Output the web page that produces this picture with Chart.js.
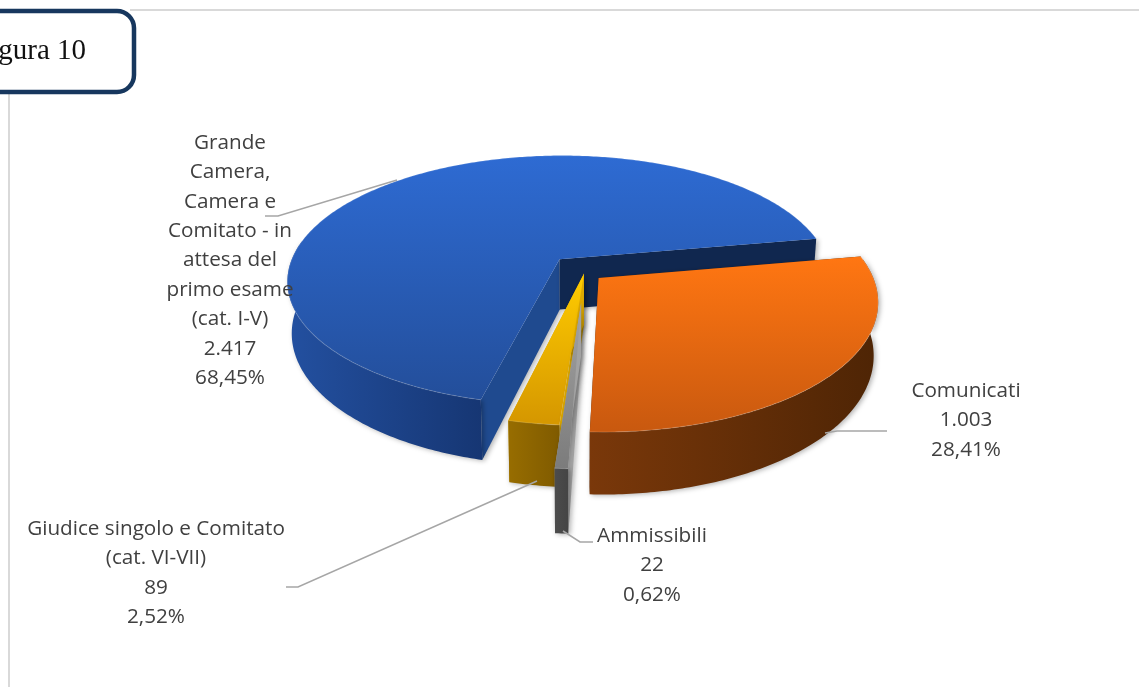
<!DOCTYPE html>
<html><head><meta charset="utf-8">
<script src="https://cdn.jsdelivr.net/npm/chart.js@4/dist/chart.umd.min.js"></script>
<style>html,body{margin:0;padding:0;background:#fff;overflow:hidden}canvas{display:block}</style>
</head><body><canvas id="c" width="1139" height="687"></canvas>
<script>
const categories = ["Comunicati","Ammissibili","Giudice singolo e Comitato (cat. VI-VII)","Grande Camera, Camera e Comitato - in attesa del primo esame (cat. I-V)"];
const values = [1003,22,89,2417];
const valueLabels = ["1.003","22","89","2.417"];
const percentLabels = ["28,41%","0,62%","2,52%","68,45%"];
const title = "Figura 10";

const labelLines = [
  ["Comunicati"],
  ["Ammissibili"],
  ["Giudice singolo e Comitato","(cat. VI-VII)"],
  ["Grande","Camera,","Camera e","Comitato - in","attesa del","primo esame","(cat. I-V)"]
];
const labelPos = [[966,391],[652,536],[156,529],[230,143]];
const leaders = [
  [[887,431],[837,431],[825,433]],
  [[593,542],[580,542],[563,531]],
  [[286,587],[298,587],[537,481]],
  [[265,216],[278,216],[397,180]]
];
// explode vectors in unit-disc coordinates
const explode = [[.075,.08],[.011,.27],[.022,.045],[-.069,-.072]];
const topGrad = [["#ff7612","#c9590f",258,430],["#a4a4a4","#7c7c7c",298,467],["#ffcc00","#d69800",274,420],["#2e6bd3","#234e9a",155,400]];
const wallGrad = [["#7a380a","#4f2505",589,872],["#4c4c4c","#454545",555,567],["#966c00","#7f5a00",511,561],["#2350a0","#163673",288,483]];
// cut faces: at the start angle and at the end angle of each slice
const startFaceCol = ["#5a2a06","#a2a2a2","#dca800","#1f4a8f"];
const endFaceCol = ["#5a2a06","#a2a2a2","#dca800","#10274f"];
const drawOrder = [3,0,2,1];

const PX=578,PY=268,S=271,K=124,P=.17,D=51;
function proj(u,v,drop){
  const w=1-P*v; let X=PX+S*u/w,Y=PY+K*v/w;
  if(drop){X=PX+(X-PX)*.985;Y+=D/w;}
  return [X,Y];
}
function rim(i,a,drop){return proj(explode[i][0]+Math.cos(a),explode[i][1]+Math.sin(a),drop);}
function apex(i,drop){return proj(explode[i][0],explode[i][1],drop);}
function poly(ctx,pts){ctx.beginPath();pts.forEach((p,j)=>j?ctx.lineTo(p[0],p[1]):ctx.moveTo(p[0],p[1]));ctx.closePath();}
function angles(a0,a1){const n=Math.max(4,Math.ceil((a1-a0)*80));const r=[];for(let j=0;j<=n;j++)r.push(a0+(a1-a0)*j/n);return r;}

const pie3d = {
  id:"pie3d",
  beforeDatasetsDraw(chart){
    const ctx=chart.ctx, arcs=chart.getDatasetMeta(0).data;
    drawOrder.forEach(i=>{
      const a0=arcs[i].startAngle,a1=arcs[i].endAngle,as=angles(a0,a1);
      const topPts=as.map(a=>rim(i,a,false));
      const T=apex(i,false),B=apex(i,true);
      // cut faces
      ctx.save();
      ctx.shadowColor="rgba(0,0,0,.3)";ctx.shadowBlur=5;ctx.shadowOffsetX=2;ctx.shadowOffsetY=1;
      poly(ctx,[T,rim(i,a0,false),rim(i,a0,true),B]);ctx.fillStyle=startFaceCol[i];ctx.fill();
      poly(ctx,[T,rim(i,a1,false),rim(i,a1,true),B]);ctx.fillStyle=endFaceCol[i];ctx.fill();
      // outer wall: only the part that faces the viewer
      const front=as.filter(a=>Math.sin(a)>-0.15);
      const wg=ctx.createLinearGradient(wallGrad[i][2],0,wallGrad[i][3],0);
      wg.addColorStop(0,wallGrad[i][0]);wg.addColorStop(1,wallGrad[i][1]);
      poly(ctx,front.map(a=>rim(i,a,false)).concat(front.map(a=>rim(i,a,true)).reverse()));
      ctx.fillStyle=wg;ctx.fill();
      ctx.restore();
      // top
      const tg=ctx.createLinearGradient(0,topGrad[i][2],0,topGrad[i][3]);
      tg.addColorStop(0,topGrad[i][0]);tg.addColorStop(1,topGrad[i][1]);
      poly(ctx,[T].concat(topPts));ctx.fillStyle=tg;ctx.fill();
      ctx.beginPath();topPts.forEach((p,j)=>j?ctx.lineTo(p[0],p[1]):ctx.moveTo(p[0],p[1]));
      ctx.strokeStyle="rgba(255,255,255,.14)";ctx.lineWidth=1.2;ctx.stroke();
    });
    // leaders
    ctx.strokeStyle="#a6a6a6";ctx.lineWidth=1.5;
    leaders.forEach(l=>{ctx.beginPath();l.forEach((p,j)=>j?ctx.lineTo(p[0],p[1]):ctx.moveTo(p[0],p[1]));ctx.stroke();});
    // labels
    ctx.fillStyle="#404040";ctx.font='20.7px "Open Sans"';ctx.textAlign="center";ctx.textBaseline="middle";
    categories.forEach((c,i)=>{
      const lines=labelLines[i].concat([valueLabels[i],percentLabels[i]]);
      lines.forEach((t,j)=>ctx.fillText(t,labelPos[i][0],labelPos[i][1]+j*29.4));
    });
    return false;
  },
  beforeDraw(chart){
    const ctx=chart.ctx;
    ctx.save();
    ctx.fillStyle="#fff";ctx.fillRect(0,0,1139,687);
    ctx.fillStyle="#d9d9d9";ctx.fillRect(130,9,1009,2);ctx.fillRect(8,92,2,595);
    ctx.restore();
  },
  afterDraw(chart){
    const ctx=chart.ctx;
    ctx.save();
    ctx.beginPath();ctx.roundRect(-30,11,164,81,17);
    ctx.fillStyle="#fff";ctx.fill();ctx.strokeStyle="#17375e";ctx.lineWidth=4.5;ctx.stroke();
    ctx.fillStyle="#111";ctx.font='29px "Liberation Serif"';ctx.textAlign="right";ctx.textBaseline="alphabetic";
    ctx.fillText(title,86,59);
    ctx.restore();
  }
};

new Chart(document.getElementById("c"),{
  type:"pie",
  data:{labels:categories,datasets:[{data:values,backgroundColor:["#ff7612","#8f8f8f","#f0b800","#2a62c4"],borderWidth:0}]},
  options:{responsive:false,animation:false,rotation:80,
    plugins:{legend:{display:false},tooltip:{enabled:false},title:{display:false}}},
  plugins:[pie3d]
});
</script></body></html>
